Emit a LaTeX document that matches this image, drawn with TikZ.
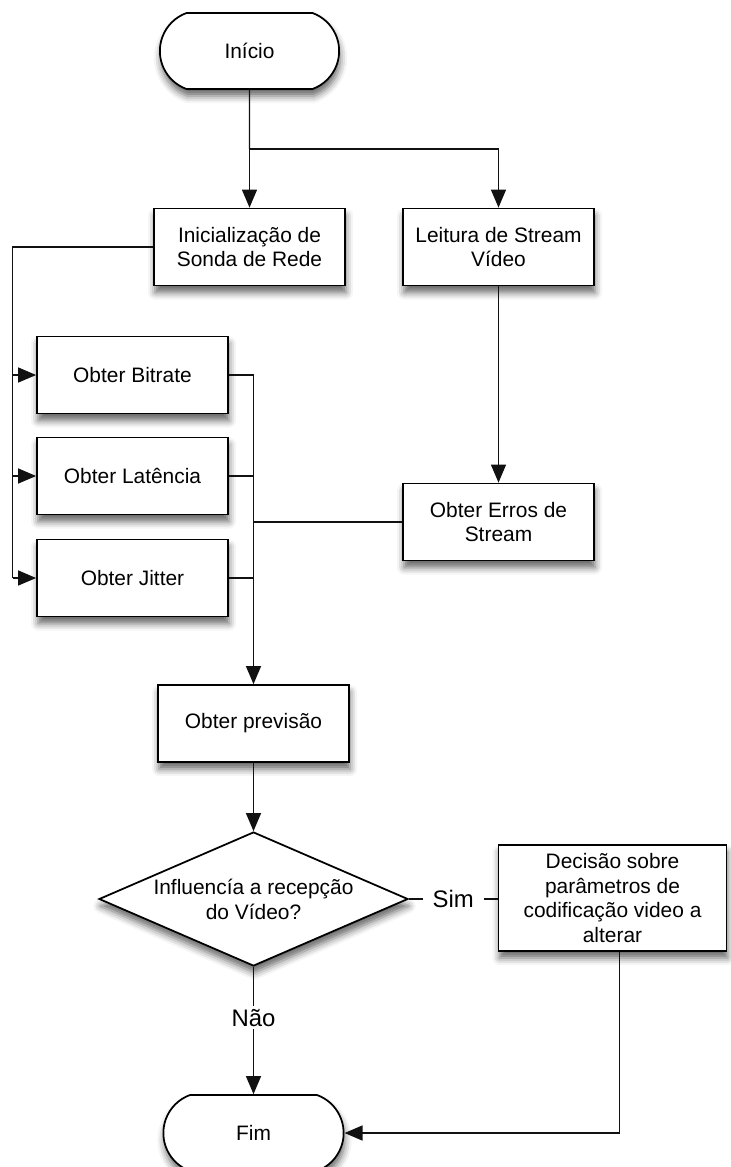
\documentclass[tikz,border=0pt]{standalone}
\usepackage{fontspec}
\setmainfont{Liberation Sans}
\usepackage{xcolor}
\usetikzlibrary{arrows.meta,shapes.geometric,shapes.misc,shadows.blur}
\definecolor{flowGray}{HTML}{111111}
\tikzset{
  flow/.style={-{Triangle[length=3.6mm,width=3mm]}, line width=0.75pt, draw=flowGray},
  link/.style={line width=0.75pt, draw=flowGray},
  box shadow/.style={blur shadow={shadow xshift=0.6pt, shadow yshift=-4pt,
    shadow blur radius=4pt, shadow opacity=60}},
  process box/.style={draw=black, line width=1pt, fill=white, box shadow,
    align=center, minimum width=3.82cm, minimum height=1.54cm,
    inner sep=2pt, font=\fontsize{11.9}{14.2}\selectfont},
  terminal/.style={rounded rectangle, rounded rectangle arc length=140,
    draw=black, line width=1pt, fill=white, box shadow, minimum width=3.82cm,
    minimum height=1.52cm, font=\fontsize{11.9}{14.2}\selectfont},
  decision/.style={diamond, aspect=2.3, draw=black, line width=1pt, fill=white,
    box shadow, inner sep=0pt, align=center, minimum width=6.18cm,
    minimum height=2.68cm, font=\fontsize{11.9}{14.2}\selectfont},
  answer/.style={fill=white, inner xsep=0.2cm, inner ysep=1.5pt,
    font=\fontsize{13.6}{16}\selectfont}
}
\begin{document}
\begin{tikzpicture}
  \useasboundingbox (0,0) rectangle (14.62,-23.34);
  \node[terminal] (inicio) at (4.99,-1.02) {Início};
  \node[process box] (inic) at (4.99,-4.94) {Inicialização de\\Sonda de Rede};
  \node[process box] (leit) at (9.97,-4.94) {Leitura de Stream\\Vídeo};
  \node[process box] (bit) at (2.65,-7.5) {Obter Bitrate};
  \node[process box] (lat) at (2.65,-9.52) {Obter Latência};
  \node[process box] (jit) at (2.65,-11.56) {Obter Jitter};
  \node[process box] (erros) at (9.97,-10.44) {Obter Erros de\\Stream};
  \node[process box] (prev) at (5.07,-14.47) {Obter previsão};
  \node[decision] (quest) at (5.07,-17.98) {Influencía a recepção\\do Vídeo?};
  \node[process box, minimum width=4.56cm, minimum height=2.12cm]
    (decis) at (12.25,-17.96)
    {Decisão sobre\\parâmetros de\\codificação video a\\alterar};
  \node[terminal, minimum width=3.84cm] (fim) at (5.07,-22.66) {Fim};

  % ligacoes
  \coordinate (split) at (4.99,-2.98);
  \coordinate (lbus) at (0.25,-11.56);
  \draw[link] (inicio) -- (split);
  \draw[flow] (split) -- (inic);
  \draw[flow] (split) -| (leit);
  \draw[link] (inic.west) -| (lbus);
  \draw[flow] (bit.west -| lbus) -- (bit);
  \draw[flow] (lat.west -| lbus) -- (lat);
  \draw[flow] (lbus) -- (jit);
  \draw[flow] (leit) -- (erros);
  \draw[flow] (bit.east) -| (prev.north);
  \draw[link] (lat.east) -- (lat.east -| prev.north);
  \draw[link] (jit.east) -- (jit.east -| prev.north);
  \draw[link] (erros.west) -- (erros.west -| prev.north);
  \draw[flow] (prev) -- (quest);
  \draw[link] (quest.east) -- node[answer] {Sim} (quest.east -| decis.west);
  \draw[flow] (quest.south) -- node[answer, pos=0.4] {Não} (fim.north);
  \draw[flow] ([xshift=0.14cm]decis.south) |- (fim.east);
\end{tikzpicture}
\end{document}
